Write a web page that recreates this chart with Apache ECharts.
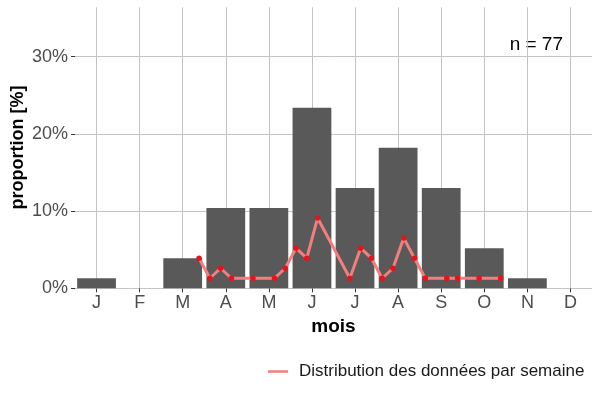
<!DOCTYPE html>
<html>
<head>
<meta charset="utf-8">
<script src="https://cdn.jsdelivr.net/npm/echarts@6/dist/echarts.min.js"></script>
<style>
    html, body { margin: 0; padding: 0; background: #fff; }
    #ChartDIV { width: 600px; height: 400px; }
</style>
</head>
<body>
<div id="ChartDIV"></div>
<script>
// mois (axe x) et proportion mensuelle en %
var months = ['J', 'F', 'M', 'A', 'M', 'J', 'J', 'A', 'S', 'O', 'N', 'D'];
var monthPct = [1.3, 0, 3.9, 10.4, 10.4, 23.4, 13.0, 18.2, 13.0, 5.2, 1.3, 0];

// semaines: position sur l'axe des mois et proportion en %
var weekPos = [3.38, 3.63, 3.88, 4.13, 4.63, 5.13, 5.38, 5.63, 5.88, 6.13, 6.88,
               7.13, 7.38, 7.63, 7.88, 8.13, 8.38, 8.63, 9.13, 9.38, 9.88, 10.38];
var weekPct = [3.9, 1.3, 2.6, 1.3, 1.3, 1.3, 2.6, 5.2, 3.9, 9.1, 1.3,
               5.2, 3.9, 1.3, 2.6, 6.5, 3.9, 1.3, 1.3, 1.3, 1.3, 1.3];

var yTicks = [0, 10, 20, 30];
var yMax = 36.4;
var nTotal = 77;
var legendName = 'Distribution des données par semaine';

var myChart = echarts.init(document.getElementById('ChartDIV'));
var FONT = '"Liberation Sans", Arial, sans-serif';
var gridColor = '#c4c4c4';

var option = {
    animation: false,
    backgroundColor: '#fff',
    textStyle: { fontFamily: FONT },
    grid: {
        left: 75,
        right: 8,
        top: 7.3,
        bottom: 111.7
    },
    legend: {
        data: [{ name: legendName, icon: 'rect', itemStyle: { color: '#f37e7e' } }],
        left: 268,
        top: 363,
        padding: 0,
        itemWidth: 20,
        itemHeight: 2.5,
        textStyle: { fontSize: 17, color: '#1a1a1a', padding: [0, 0, 0, 6] }
    },
    xAxis: [
        {
            type: 'category',
            data: months,
            boundaryGap: true,
            axisLine: { show: false },
            axisTick: { show: true, alignWithLabel: true, length: 4, lineStyle: { color: '#333' } },
            axisLabel: { fontSize: 18, color: '#4d4d4d', margin: 6 },
            splitLine: { show: false },
            name: 'mois',
            nameLocation: 'middle',
            nameGap: 28,
            nameTextStyle: { fontSize: 19, fontWeight: 'bold', color: '#000' }
        },
        {
            // lignes verticales de la grille, au centre de chaque mois
            type: 'category',
            data: months,
            boundaryGap: true,
            axisLine: { show: false },
            axisTick: { show: true, inside: true, alignWithLabel: true, length: 281, lineStyle: { color: gridColor, width: 1 } },
            axisLabel: { show: false },
            splitLine: { show: false }
        },
        {
            type: 'value',
            min: 0.5,
            max: 12.5,
            show: false
        }
    ],
    yAxis: {
        type: 'value',
        min: 0,
        max: yMax,
        interval: 10,
        axisLine: { show: false },
        axisTick: { show: true, length: 4, customValues: yTicks, lineStyle: { color: '#333' } },
        axisLabel: {
            fontSize: 18,
            color: '#4d4d4d',
            margin: 7,
            formatter: function (v) {
                return yTicks.indexOf(v) >= 0 ? v + '%' : '';
            }
        },
        splitLine: {
            show: true,
            // pas de ligne au bord haut (yMax)
            lineStyle: { color: [gridColor, gridColor, gridColor, gridColor, 'rgba(0,0,0,0)'], width: 1 }
        }
    },
    graphic: [
        {
            type: 'text',
            x: 18.5,
            y: 147.5,
            rotation: Math.PI / 2,
            style: {
                text: 'proportion [%]',
                align: 'center',
                verticalAlign: 'middle',
                font: 'bold 18px ' + FONT,
                fill: '#000'
            }
        },
        {
            type: 'text',
            x: 563,
            y: 45,
            style: {
                text: 'n = ' + nTotal,
                align: 'right',
                verticalAlign: 'middle',
                font: '19px ' + FONT,
                fill: '#000'
            }
        }
    ],
    series: [
        {
            name: 'mois',
            type: 'bar',
            xAxisIndex: 0,
            data: monthPct,
            barWidth: '90%',
            itemStyle: { color: '#595959' }
        },
        {
            name: legendName,
            type: 'line',
            xAxisIndex: 2,
            data: weekPos.map(function (x, i) { return [x, weekPct[i]]; }),
            symbol: 'circle',
            symbolSize: 5.5,
            lineStyle: { color: '#f37e7e', width: 3 },
            itemStyle: { color: '#e4141c' },
            z: 5
        }
    ]
};

myChart.setOption(option);
</script>
</body>
</html>
